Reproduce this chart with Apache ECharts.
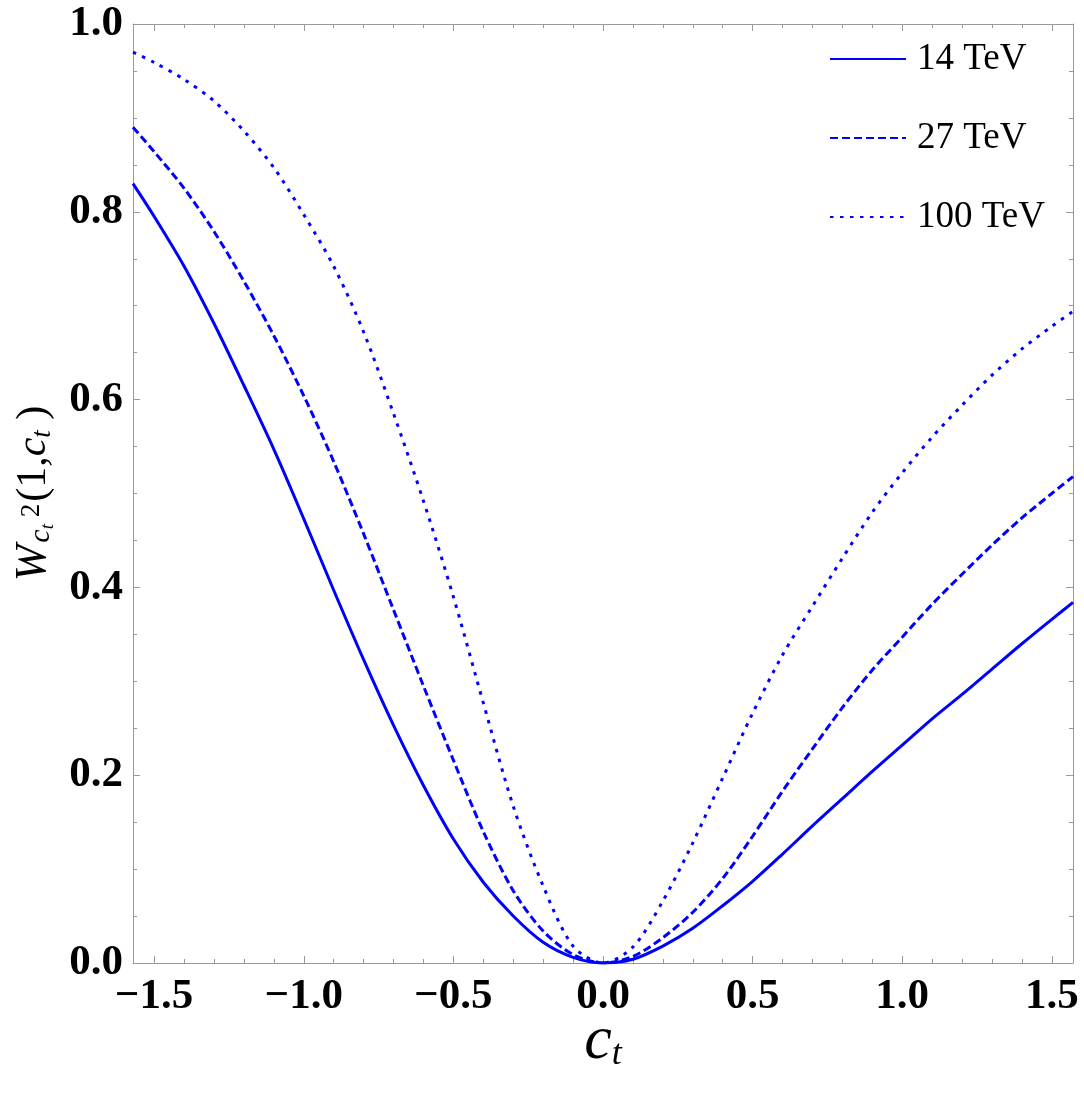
<!DOCTYPE html>
<html>
<head>
<meta charset="utf-8">
<script src="https://cdn.jsdelivr.net/npm/echarts@6/dist/echarts.min.js"></script>
<style>
  html, body { margin: 0; padding: 0; background: #fff; }
  #main { width: 1084px; height: 1096px; }
</style>
</head>
<body>
<div id="main"></div>
<script>
// c_t sample points (endpoints at +-pi/2)
var ct = [-1.5708, -1.5, -1.4, -1.3, -1.2, -1.1, -1.0, -0.9, -0.8, -0.7, -0.6, -0.5, -0.4, -0.3, -0.2, -0.1,
  0, 0.1, 0.2, 0.3, 0.4, 0.5, 0.6, 0.7, 0.8, 0.9, 1.0, 1.1, 1.2, 1.3, 1.4, 1.5, 1.5708];

var w14 = [0.830, 0.795, 0.742, 0.681, 0.615, 0.547, 0.473, 0.397, 0.323, 0.253, 0.189, 0.132, 0.086, 0.050, 0.022, 0.006,
  0, 0.004, 0.018, 0.037, 0.061, 0.087, 0.116, 0.146, 0.175, 0.204, 0.232, 0.260, 0.286, 0.313, 0.340, 0.366, 0.384];

var w27 = [0.890, 0.864, 0.825, 0.779, 0.726, 0.668, 0.604, 0.534, 0.457, 0.376, 0.295, 0.216, 0.140, 0.077, 0.034, 0.009,
  0, 0.007, 0.027, 0.054, 0.090, 0.135, 0.183, 0.228, 0.272, 0.312, 0.347, 0.382, 0.414, 0.445, 0.474, 0.500, 0.518];

var w100 = [0.970, 0.959, 0.941, 0.918, 0.886, 0.847, 0.797, 0.742, 0.672, 0.585, 0.492, 0.390, 0.277, 0.167, 0.082, 0.018,
  0, 0.017, 0.066, 0.128, 0.197, 0.266, 0.328, 0.380, 0.431, 0.480, 0.522, 0.560, 0.594, 0.626, 0.654, 0.678, 0.694];

var names = ['14 TeV', '27 TeV', '100 TeV'];

function pairs(ys) {
  return ct.map(function (x, i) { return [x, ys[i]]; });
}

var chart = echarts.init(document.getElementById('main'));

var serif = '"Liberation Serif", "DejaVu Serif", serif';
var frame = { onZero: false, lineStyle: { color: '#999', width: 1 } };

function xLabel(v) {
  if (Math.abs(v * 2 - Math.round(v * 2)) > 1e-6) return '';
  return (v < 0 ? '\u2212' : '') + Math.abs(v).toFixed(1);
}

var baseX = {
  type: 'value',
  min: -Math.PI / 2,
  max: Math.PI / 2,
  axisLine: frame,
  axisTick: { inside: true, length: 7, lineStyle: { color: '#999' } },
  minorTick: { show: true, splitNumber: 5, length: 4, lineStyle: { color: '#999' } },
  splitLine: { show: false }
};
var baseY = {
  type: 'value',
  min: 0,
  max: 1,
  interval: 0.2,
  axisLine: frame,
  axisTick: { inside: true, length: 7, lineStyle: { color: '#999' } },
  minorTick: { show: true, splitNumber: 4, length: 4, lineStyle: { color: '#999' } },
  splitLine: { show: false }
};

var option = {
  backgroundColor: '#fff',
  animation: false,
  grid: { left: 133, right: 11, top: 24, bottom: 133, containLabel: false, outerBoundsMode: 'none' },
  legend: {
    data: names,
    orient: 'vertical',
    left: 824,
    top: 34,
    itemWidth: 76,
    itemHeight: 14,
    itemGap: 39,
    itemStyle: { opacity: 0 },
    textStyle: { fontFamily: serif, fontSize: 37, color: '#000', lineHeight: 40, padding: [0, 0, 0, 6] }
  },
  xAxis: [
    Object.assign({}, baseX, {
      position: 'bottom',
      axisLabel: { formatter: xLabel, fontFamily: serif, fontWeight: 'bold', fontSize: 43, color: '#000', margin: 12 },
      name: '{c|c}{t|t}',
      nameLocation: 'middle',
      nameGap: 48,
      nameMoveOverlap: false,
      nameTextStyle: {
        rich: {
          c: { fontFamily: serif, fontStyle: 'italic', fontSize: 62, color: '#000' },
          t: { fontFamily: serif, fontStyle: 'italic', fontSize: 36, color: '#000', padding: [26, 0, 0, 0] }
        }
      }
    }),
    Object.assign({}, baseX, { position: 'top', axisLabel: { show: false } })
  ],
  yAxis: [
    Object.assign({}, baseY, {
      position: 'left',
      axisLabel: { formatter: function (v) { return v.toFixed(1); }, fontFamily: serif, fontWeight: 'bold', fontSize: 43, color: '#000', margin: 10 },
      name: '{w|W}{s|c}{ss|t}{p| 2}{r|(1,}{i|c}{sub|t}{r| )}',
      nameLocation: 'middle',
      nameGap: 76,
      nameRotate: 90,
      nameTextStyle: {
        rich: {
          w: { fontFamily: serif, fontStyle: 'italic', fontSize: 44, color: '#000' },
          s: { fontFamily: serif, fontStyle: 'italic', fontSize: 30, color: '#000', padding: [16, 0, 0, 2] },
          ss: { fontFamily: serif, fontStyle: 'italic', fontSize: 19, color: '#000', padding: [28, 0, 0, 0] },
          p: { fontFamily: serif, fontSize: 27, color: '#000', padding: [0, 2, 4, 0] },
          r: { fontFamily: serif, fontSize: 42, color: '#000' },
          i: { fontFamily: serif, fontStyle: 'italic', fontSize: 42, color: '#000' },
          sub: { fontFamily: serif, fontStyle: 'italic', fontSize: 27, color: '#000', padding: [18, 0, 0, 0] }
        }
      }
    }),
    Object.assign({}, baseY, { position: 'right', axisLabel: { show: false } })
  ],
  series: [
    {
      name: names[0], type: 'line', data: pairs(w14), smooth: 0.3, symbol: 'none',
      lineStyle: { color: '#0000ff', width: 3, type: 'solid' }, itemStyle: { color: '#0000ff' }
    },
    {
      name: names[1], type: 'line', data: pairs(w27), smooth: 0.3, symbol: 'none',
      lineStyle: { color: '#0000ff', width: 3, type: [8, 4] }, itemStyle: { color: '#0000ff' }
    },
    {
      name: names[2], type: 'line', data: pairs(w100), smooth: 0.3, symbol: 'none',
      lineStyle: { color: '#0000ff', width: 3, type: [3.5, 6.5] }, itemStyle: { color: '#0000ff' }
    }
  ]
};

chart.setOption(option);
</script>
</body>
</html>
